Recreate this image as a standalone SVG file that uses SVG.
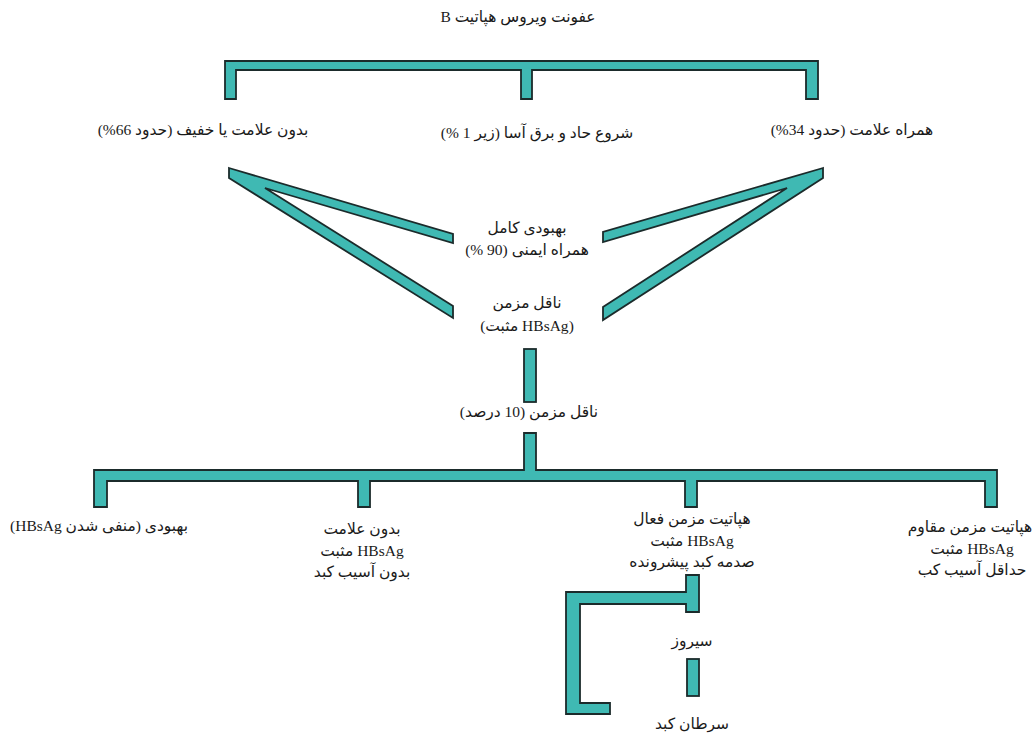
<svg xmlns="http://www.w3.org/2000/svg" width="1035" height="734" viewBox="0 0 1035 734">
<style>
.bar{fill:#3fb9b3;stroke:#1b2b2b;stroke-width:1.8;stroke-linejoin:miter}
.t{font-family:"Liberation Serif","DejaVu Sans",serif;font-size:15.5px;fill:#1a1a1a;text-anchor:middle;direction:rtl;unicode-bidi:embed}
</style>
<rect width="1035" height="734" fill="#ffffff"/>
<g id="connectors">
<path class="bar" d="M225,61 H818 V99 H806 V70 H532 V99 H521 V70 H236 V99 H225 Z"/>
<polygon class="bar" points="229,168 453,234 453,243 265,188 453,306 453,318 229,178"/>
<polygon class="bar" points="823,168 603,232 603,242 787,188 603,307 603,320 823,178"/>
<rect class="bar" x="524" y="349" width="12" height="53"/>
<path class="bar" d="M94,470 H524 V433 H536 V470 H997 V507 H985 V481 H697 V507 H685 V481 H370 V507 H358 V481 H107 V507 H94 Z"/>
<path class="bar" d="M686,575 H699 V612 H686 V604 H580 V703 H610 V714 H566 V592 H686 Z"/>
<rect class="bar" x="687" y="659" width="12" height="37"/>
</g>
<g id="root"><text class="t" x="518" y="22">عفونت ویروس هپاتیت B</text></g>
<g id="asymptomatic"><text class="t" x="203" y="135">بدون علامت یا خفیف (حدود 66%)</text></g>
<g id="fulminant"><text class="t" x="537" y="138">شروع حاد و برق آسا (زیر 1 %)</text></g>
<g id="symptomatic"><text class="t" x="852" y="135">همراه علامت (حدود 34%)</text></g>
<g id="recovery"><text class="t" x="527" y="233">بهبودی کامل</text><text class="t" x="527" y="255">همراه ایمنی (90 %)</text></g>
<g id="carrier"><text class="t" x="527" y="308">ناقل مزمن</text><text class="t" x="527" y="331">(HBsAg مثبت)</text></g>
<g id="carrier10"><text class="t" x="529" y="417">ناقل مزمن (10 درصد)</text></g>
<g id="resolved"><text class="t" x="99" y="531">بهبودی (منفی شدن HBsAg)</text></g>
<g id="healthy-carrier"><text class="t" x="362" y="534">بدون علامت</text><text class="t" x="362" y="556">HBsAg مثبت</text><text class="t" x="362" y="577">بدون آسیب کبد</text></g>
<g id="active"><text class="t" x="692" y="524">هپاتیت مزمن فعال</text><text class="t" x="692" y="546">HBsAg مثبت</text><text class="t" x="692" y="567">صدمه کبد پیشرونده</text></g>
<g id="persistent"><text class="t" x="970" y="532">هپاتیت مزمن مقاوم</text><text class="t" x="972" y="554">HBsAg مثبت</text><text class="t" x="972" y="575">حداقل آسیب کب</text></g>
<g id="cirrhosis"><text class="t" x="692" y="646">سیروز</text></g>
<g id="cancer"><text class="t" x="692" y="729">سرطان کبد</text></g>
</svg>
